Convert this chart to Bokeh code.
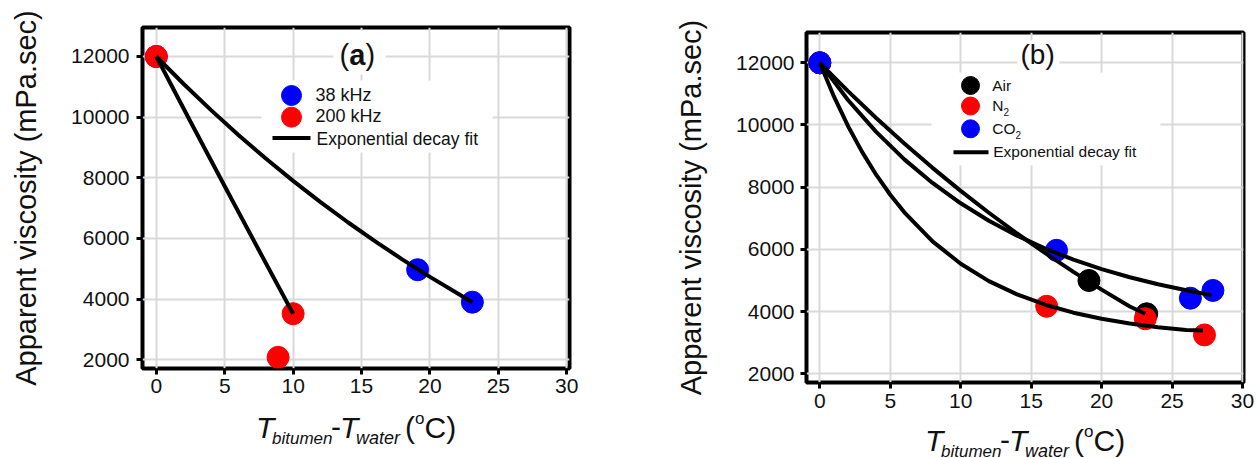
from bokeh.plotting import figure
from bokeh.layouts import row, column
from bokeh.models import Label, FixedTicker, Range1d
from bokeh.embed import file_html
from bokeh.resources import INLINE

# ---------------- data ----------------
x_ticks = [0, 5, 10, 15, 20, 25, 30]
y_ticks = [2000, 4000, 6000, 8000, 10000, 12000]

# panel (a)
a_38_x = [0, 19.1, 23.1]
a_38_y = [12000, 4970, 3900]
a_200_x = [0, 10.0, 8.9]
a_200_y = [12000, 3520, 2080]
a_fit38_x = [0, 2, 4, 6, 8, 10, 12, 14, 16, 18, 20, 22, 23.1]
a_fit38_y = [12000, 11093, 10232, 9414, 8637, 7900, 7200, 6535, 5903, 5304, 4734, 4192, 3900]
a_fit200_x = [0, 2.5, 5, 7.5, 10]
a_fit200_y = [12000, 9850, 7720, 5610, 3520]

# panel (b)
b_air_x = [0, 19.1, 23.2]
b_air_y = [12000, 5000, 3930]
b_n2_x = [0, 16.1, 23.1, 27.3]
b_n2_y = [12000, 4170, 3770, 3250]
b_co2_x = [0, 16.8, 26.3, 27.9]
b_co2_y = [12000, 5970, 4430, 4680]
b_fitair_x = [0, 2, 4, 6, 8, 10, 12, 14, 16, 18, 20, 22, 23.1]
b_fitair_y = [12000, 11088, 10223, 9402, 8622, 7882, 7178, 6511, 5878, 5277, 4706, 4163, 3930]
b_fitco2_x = [0, 2, 4, 6, 8, 10, 12, 14, 16, 18, 20, 22, 24, 26, 27.8]
b_fitco2_y = [12000, 10804, 9777, 8894, 8135, 7483, 6923, 6441, 6027, 5672, 5367, 5104, 4879, 4684, 4530]
b_fitn2_x = [0, 1, 2, 3, 4, 5, 6, 8, 10, 12, 14, 16, 18, 20, 22, 24, 26, 27.2]
b_fitn2_y = [12000, 10919, 9969, 9135, 8402, 7757, 7192, 6259, 5537, 4981, 4552, 4221, 3965, 3768, 3615, 3498, 3407, 3390]

y_title = "Apparent viscosity (mPa.sec)"
FONT = "Liberation Sans"
TXT = "#111111"
BASE_SHIFT = 0.34   # observed shift of Label's alphabetic baseline, in em


def setup(W, H, BL, BR, BT, BB, xr, yr, page_left, xstand, ystand):
    p = figure(width=W, height=H, x_range=Range1d(*xr), y_range=Range1d(*yr),
               output_backend="svg", toolbar_location=None, title=None,
               min_border_left=BL, min_border_right=BR,
               min_border_top=BT, min_border_bottom=BB,
               background_fill_color="white", border_fill_color="white")
    p.frame_align = False
    p.outline_line_color = "black"
    p.outline_line_width = 4
    p.outline_line_alpha = 1.0
    p.grid.grid_line_color = "#d9d9d9"
    p.grid.grid_line_width = 2
    p.xaxis.ticker = FixedTicker(ticks=x_ticks)
    p.yaxis.ticker = FixedTicker(ticks=y_ticks)
    for ax in (p.xaxis[0], p.yaxis[0]):
        ax.axis_line_color = None
        ax.major_tick_line_color = "black"
        ax.major_tick_line_width = 3
        ax.major_tick_out = 6
        ax.major_tick_in = 0
        ax.minor_tick_line_color = None
        ax.major_label_text_font = FONT
        ax.major_label_text_font_size = "21px"
        ax.major_label_text_color = TXT
    p.xaxis.major_label_standoff = xstand
    p.yaxis.major_label_standoff = ystand
    p.yaxis.axis_label = y_title
    p.yaxis.axis_label_text_font = FONT
    p.yaxis.axis_label_text_font_size = "29px"
    p.yaxis.axis_label_text_font_style = "normal"
    p.yaxis.axis_label_text_color = TXT
    p.yaxis.axis_label_standoff = 26
    fl = page_left + BL
    ft = BT
    FW = W - BL - BR
    FH = H - BT - BB

    def X(px):
        return xr[0] + (px - fl) * (xr[1] - xr[0]) / FW

    def Y(py):
        return yr[1] - (py - ft) * (yr[1] - yr[0]) / FH

    geo = dict(fl=fl, fr=fl + FW, ft=ft, fb=ft + FH)
    return p, X, Y, geo


def label_strip(W, H, page_left, page_top):
    q = figure(width=W, height=H, x_range=Range1d(0, W), y_range=Range1d(H, 0),
               output_backend="svg", toolbar_location=None, title=None,
               x_axis_type=None, y_axis_type=None, min_border=0,
               min_border_left=0, min_border_right=0,
               min_border_top=0, min_border_bottom=0,
               background_fill_color="white", border_fill_color="white")
    q.frame_align = False
    q.outline_line_color = None
    q.grid.visible = False

    def X(px):
        return px - page_left

    def Y(py):
        return py - page_top
    return q, X, Y


def txt(p, X, Y, px, py, s, size, style="normal", align="left"):
    p.add_layout(Label(x=X(px), y=Y(py - BASE_SHIFT * size), text=s, text_font=FONT,
                       text_font_size=f"{size}px", text_font_style=style,
                       text_align=align, text_baseline="alphabetic",
                       text_color=TXT))


def white_box(p, X, Y, l, r, t, b):
    p.quad(left=[X(l)], right=[X(r)], top=[Y(t)], bottom=[Y(b)],
           fill_color="white", line_color=None)


def xlabel(q, X, Y, geo, baseline_page):
    x0 = (geo["fl"] + geo["fr"]) / 2 - 100
    b0 = baseline_page
    pieces = [
        (0, 0, "T", 30, "italic"),
        (16, 7, "bitumen", 17, "italic"),
        (75, 0, "-", 30, "normal"),
        (84, 0, "T", 30, "italic"),
        (100, 7, "water", 18, "italic"),
        (149, 0, "(", 30, "normal"),
        (159, -13, "o", 17, "normal"),
        (168.5, 0, "C)", 30, "normal"),
    ]
    for dx, dy, s, size, style in pieces:
        txt(q, X, Y, x0 + dx, b0 + dy, s, size, style)


# ---------------- panel (a) ----------------
A_W, A_H = 640, 408
pa, XA, YA, ga = setup(A_W, A_H, 142, 71, 27, 40, (-1.01, 30.2), (1713, 12956), 0, 4, 7)

white_box(pa, XA, YA, 261, 492, 80, 152)
white_box(pa, XA, YA, 333, 385, 30, 74)

pa.scatter(a_38_x, a_38_y, size=22, color="#0000ff")
pa.scatter(a_200_x, a_200_y, size=22, color="#ff0000")
pa.line(a_fit38_x, a_fit38_y, line_width=4, color="black")
pa.line(a_fit200_x, a_fit200_y, line_width=4, color="black")

# legend (a)
pa.scatter([XA(291)], [YA(95)], size=20, color="#0000ff")
pa.scatter([XA(291)], [YA(116.7)], size=20, color="#ff0000")
pa.line([XA(272), XA(310)], [YA(137.5), YA(137.5)], line_width=4, color="black")
txt(pa, XA, YA, 315, 101, "38 kHz", 18)
txt(pa, XA, YA, 315, 122, "200 kHz", 18)
txt(pa, XA, YA, 316, 144, "Exponential decay fit", 17.5)

# panel tag (a)
txt(pa, XA, YA, 339, 64.5, "(", 29)
txt(pa, XA, YA, 348.7, 64.5, "a", 29, "bold")
txt(pa, XA, YA, 365, 64.5, ")", 29)

la, XLA, YLA = label_strip(A_W, 458 - A_H, 0, A_H)
xlabel(la, XLA, YLA, ga, 437)

# ---------------- panel (b) ----------------
B_W, B_H = 617, 422
pb, XB, YB, gb = setup(B_W, B_H, 166, 14, 32, 40, (-0.944, 30.07), (1720, 12974), 640, 5, 6)

white_box(pb, XB, YB, 931, 1160, 72, 165)
white_box(pb, XB, YB, 1017, 1059, 40, 74)

pb.scatter(b_air_x, b_air_y, size=22, color="#000000")
pb.scatter(b_n2_x, b_n2_y, size=22, color="#ff0000")
pb.scatter(b_co2_x, b_co2_y, size=22, color="#0000ff")
pb.line(b_fitair_x, b_fitair_y, line_width=4, color="black")
pb.line(b_fitco2_x, b_fitco2_y, line_width=4, color="black")
pb.line(b_fitn2_x, b_fitn2_y, line_width=4, color="black")

# legend (b)
pb.scatter([XB(970)], [YB(85)], size=18, color="#000000")
pb.scatter([XB(970)], [YB(105.5)], size=18, color="#ff0000")
pb.scatter([XB(970)], [YB(128.3)], size=18, color="#0000ff")
pb.line([XB(953), XB(988)], [YB(151.7), YB(151.7)], line_width=4, color="black")
txt(pb, XB, YB, 991.7, 90.7, "Air", 15.5)
txt(pb, XB, YB, 991.7, 110.5, "N", 15.5)
txt(pb, XB, YB, 1003, 115, "2", 10)
txt(pb, XB, YB, 991.7, 133.5, "CO", 15.5)
txt(pb, XB, YB, 1015, 138, "2", 10)
txt(pb, XB, YB, 992.7, 156.7, "Exponential decay fit", 15.5)

# panel tag (b)
txt(pb, XB, YB, 1020, 63.5, "(b)", 28)

lb, XLB, YLB = label_strip(B_W, 458 - B_H, 640, B_H)
xlabel(lb, XLB, YLB, gb, 450)

layout = row(column(pa, la, spacing=0), column(pb, lb, spacing=0), spacing=0)
open("out.html", "w").write(file_html(layout, INLINE))
